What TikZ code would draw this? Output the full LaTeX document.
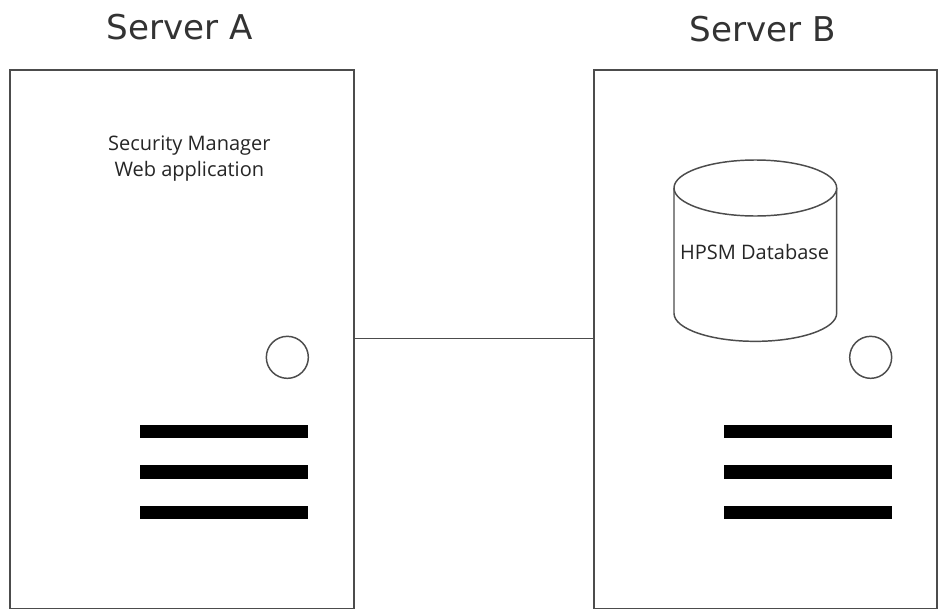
\documentclass[tikz,border=0pt]{standalone}
\usepackage{fontspec}
\setmainfont{Open Sans}
\newfontfamily\titlefont{DejaVu Sans}
\tikzset{
 server/.style={draw=black!70,line width=1.2pt,rectangle,inner sep=0pt,anchor=north west},
 led/.style={draw=black!70,line width=1.1pt,circle,minimum size=31.5pt,inner sep=0pt},
 slot/.style={fill=black,inner sep=0pt,minimum width=126pt,minimum height=10pt},
 title/.style={font=\titlefont\fontsize{25.6}{30}\selectfont,text=black!80},
 lab/.style={font=\fontsize{15}{20}\selectfont,text=black!85,align=center},
}
\begin{document}
\begin{tikzpicture}[x=1pt,y=-1pt]
\useasboundingbox (0,0) rectangle (706.5,460.5);
\fill[white] (0,0) rectangle (706.5,460.5);
\node[server,minimum width=258pt,minimum height=404pt] (a) at (6.9,51.7) {};
\node[server,minimum width=257pt,minimum height=404pt] (b) at (445,51.7) {};
\node[title] (ta) at (135,20) {Server A};
\node[title] (tb) at (572,22) {Server B};
\node[lab] (sm) at (142,119) {Security Manager\\Web application};
\draw[black!70,line width=1.1pt,fill=white] (505.5,141) -- (505.5,235) arc[start angle=180,end angle=360,x radius=61,y radius=-21] -- (627.5,141);
\draw[black!70,line width=1.1pt,fill=white] (566.5,141) ellipse[x radius=61,y radius=21];
\node[lab] (db) at (566,189) {HPSM Database};
\node[led] (la) at (215.5,268) {};
\node[led] (lb) at (653,268) {};
\node[slot] (a1) at (168,323.5) {};
\node[slot] (a2) at (168,354) {};
\node[slot] (a3) at (168,384.5) {};
\node[slot] (b1) at (606,323.5) {};
\node[slot] (b2) at (606,354) {};
\node[slot] (b3) at (606,384.5) {};
\draw[black!70,line width=1.1pt] (a.east |- 0,254) coordinate (c1) -- (b.west |- c1);
\end{tikzpicture}
\end{document}
